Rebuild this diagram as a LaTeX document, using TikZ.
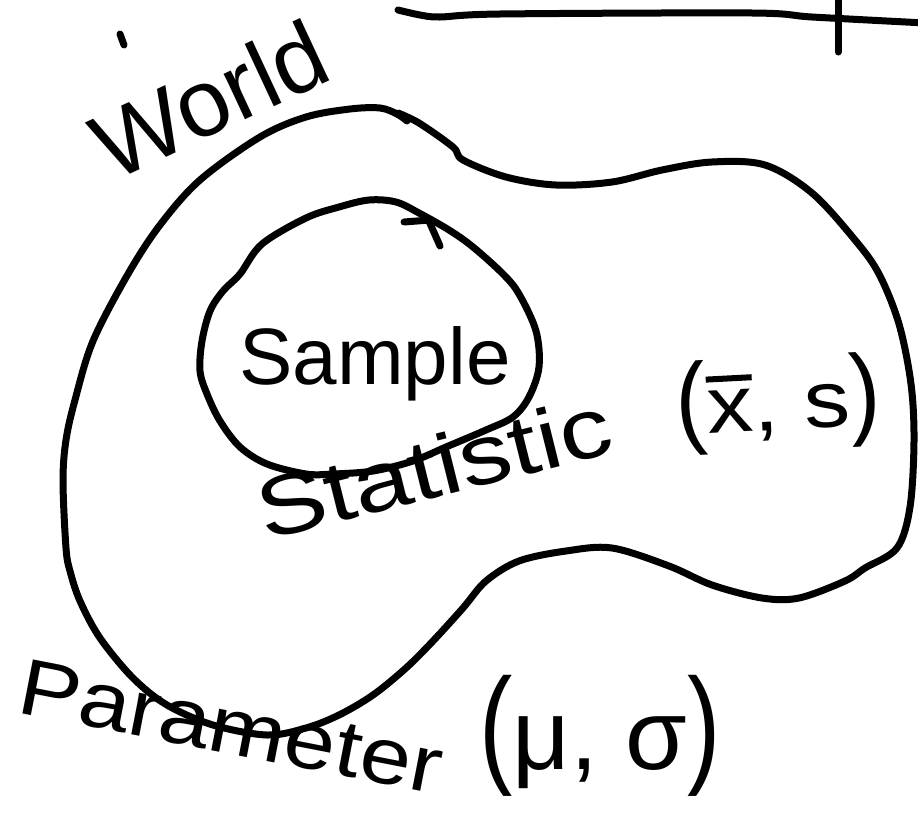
\documentclass[tikz,border=0pt]{standalone}
\usepackage{graphicx}
\usepackage{fontspec}
\setmainfont{Liberation Sans}
\newcommand\myxbar{\leavevmode\hbox{\ooalign{x\cr\hidewidth\raisebox{0.64em}{\rule{0.5em}{0.075em}}\hidewidth\cr}}}
\begin{document}
\begin{tikzpicture}[x=1pt,y=-1pt,
  pen/.style={draw=black, line width=7pt, line cap=round, line join=round},
  hand/.style={inner sep=0pt, outer sep=0pt, text=black}]
\useasboundingbox (0,0) rectangle (918,822);
\fill[white] (0,0) rectangle (918,822);

% top rule with tick
\draw[pen] plot[smooth, tension=0.5] coordinates {(398,10) (420,15) (440,17) (500,14) (752,13) (812,17) (925,23)};
\draw[pen] (838,-5) -- (838,52);

% outer blob (World)
\draw[pen] plot[smooth, tension=0.55] coordinates {
 (398,113) (419,123) (453,147) (463,160) (506,177) (556,185) (612,182) (662,170)
 (712,162) (765,165) (812,193) (855,240) (879,274) (899,324) (911,384) (914,441)
 (910,507) (897,548) (865,568) (845,581) (799,598) (762,598) (712,585) (669,566)
 (612,548) (566,551) (519,561) (486,581) (463,608) (433,641) (406,668) (373,695)
 (339,715) (306,728) (267,735) (213,725) (167,705) (133,678) (100,638) (80,601)
 (70,571) (66,548) (63,481) (66,440) (75,400) (93,341) (128,274) (160,225)
 (200,180) (260,137) (306,117) (350,109) (380,108) (397,114) (407,121)};

% inner ellipse (Sample)
\draw[pen] plot[smooth cycle, tension=0.55] coordinates {
 (240,274) (262,244) (306,218) (339,207) (369,200) (396,202) (419,213) (449,230)
 (473,247) (503,274) (519,294) (536,331) (539,367) (529,397) (513,417) (486,430)
 (446,447) (413,461) (373,471) (333,474) (306,474) (267,464) (240,447) (220,421)
 (207,394) (200,371) (202,341) (210,311) (223,291)};

% small tick on the inner ellipse
\draw[pen] (404,222) -- (430,220);
\draw[pen] (428,219) -- (440,246);

% stray dot near World
\draw[pen] (120,34) -- (124,45);

% labels
\node[hand, anchor=base west, rotate=25, font=\fontsize{95}{100}\selectfont] (world) at (112,182) {World};
\node[hand, anchor=base, font=\fontsize{80}{90}\selectfont] (sample) at (375,384) {Sample};
\node[hand, anchor=base west, rotate=14, font=\fontsize{85}{90}\selectfont] (statistic) at (265,540) {\scalebox{1.22}[1]{Statistic}};
\node[hand, anchor=base, rotate=3, font=\fontsize{80}{90}\selectfont] (xs) at (780,430) {\scalebox{1.15}[1]{\scalebox{1}[1.27]{(}\myxbar, s\scalebox{1}[1.27]{)}}};
\node[hand, anchor=base west, rotate=-11, font=\fontsize{80}{90}\selectfont] (parameter) at (15,712) {\scalebox{1.15}[1]{Parameter}};
\node[hand, anchor=base, font=\fontsize{100}{110}\selectfont] (musigma) at (600,769) {\scalebox{1}[1.3]{(}μ, σ\scalebox{1}[1.3]{)}};
\end{tikzpicture}
\end{document}
